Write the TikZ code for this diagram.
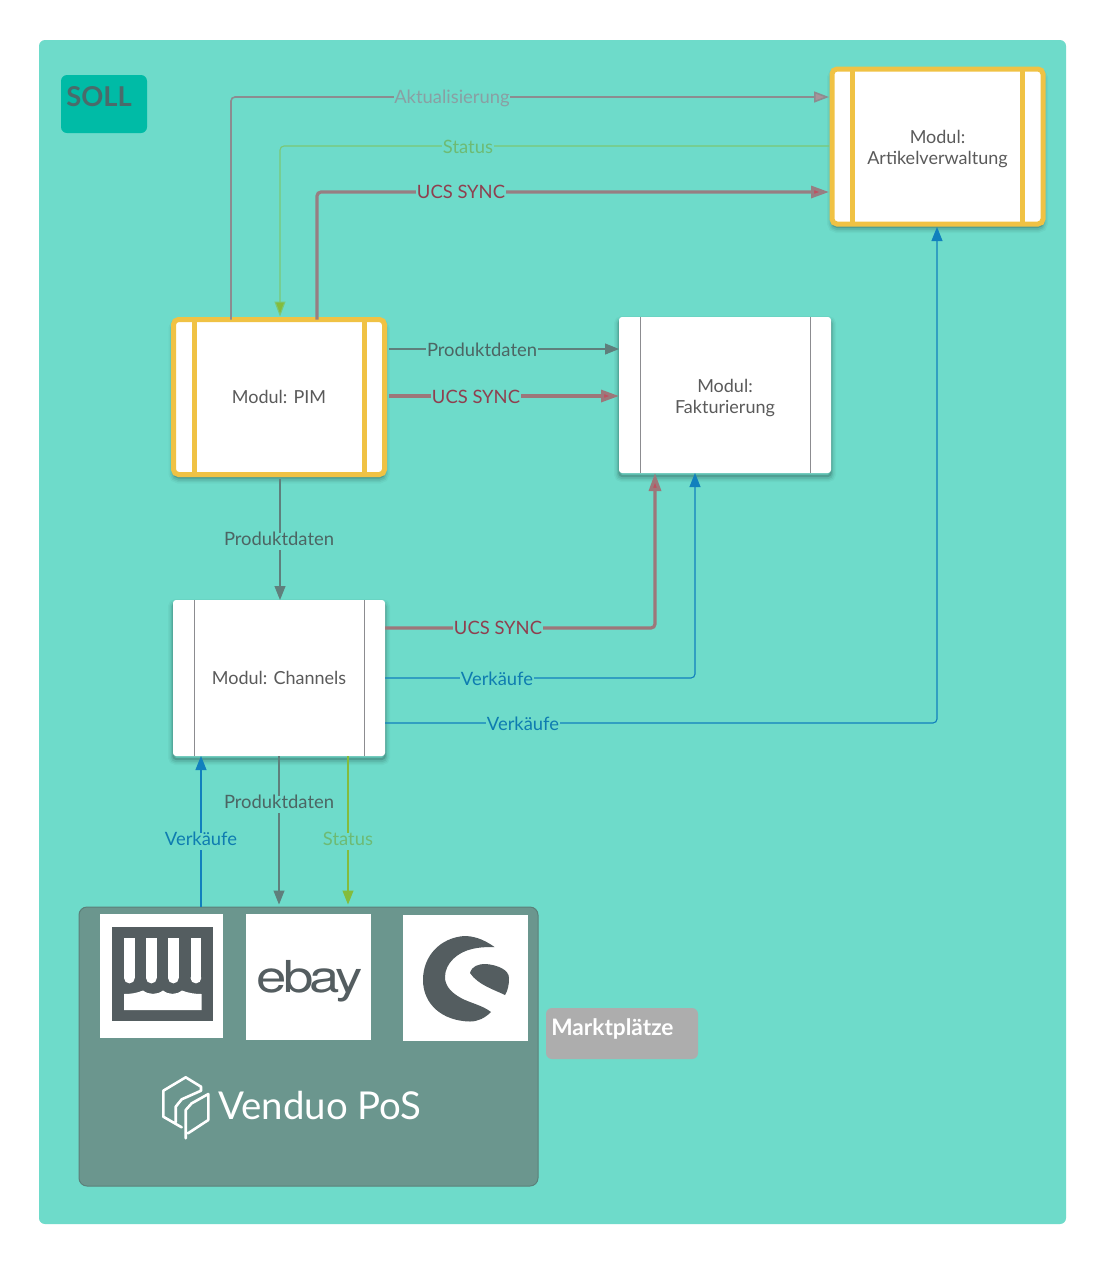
\documentclass[tikz,border=0pt]{standalone}
\usepackage{fontspec}
\setmainfont{Lato}
\newfontfamily\ebayfont{TeX Gyre Heros}
\usetikzlibrary{arrows.meta,calc}
\def\pxu{*.75pt}
\definecolor{bgteal}{HTML}{6EDBCA}
\definecolor{solfill}{HTML}{00BBA6}
\definecolor{soltxt}{HTML}{4A6B6B}
\definecolor{boxtxt}{HTML}{5A5A5A}
\definecolor{ybar}{HTML}{F0C244}
\definecolor{lgray}{HTML}{8C8C90}
\definecolor{dgray}{HTML}{5F7F7C}
\definecolor{grntxt}{HTML}{6DBB74}
\definecolor{grn}{HTML}{84BC3C}
\definecolor{redt}{HTML}{8F3F4F}
\definecolor{redh}{HTML}{BF5060}
\definecolor{blu}{HTML}{1180BD}
\definecolor{blutxt}{HTML}{0E7CB0}
\definecolor{mauve}{HTML}{A9939A}
\definecolor{akttxt}{HTML}{8A9FA3}
\definecolor{ventxt}{HTML}{6B968E}
\definecolor{logo}{HTML}{545D60}
\definecolor{mgray}{HTML}{ADADAD}
\tikzset{
  softshadow/.style={
    preaction={draw=black,draw opacity=.03,fill=black,fill opacity=.05,line width=10\pxu,transform canvas={yshift=-4\pxu}},
    preaction={draw=black,draw opacity=.05,line width=7\pxu,transform canvas={yshift=-4\pxu}},
    preaction={draw=black,draw opacity=.07,line width=4\pxu,transform canvas={yshift=-4\pxu}},
    preaction={draw=black,draw opacity=.09,line width=2\pxu,transform canvas={yshift=-3\pxu}}},
  modbase/.style={rectangle,rounded corners=3\pxu,fill=white,softshadow,align=center,
    text=boxtxt,font=\fontsize{13.5pt}{16pt}\selectfont,inner sep=0pt,outer sep=0pt},
  modplain/.style={modbase,minimum width=212\pxu,minimum height=156\pxu},
  modgold/.style={modbase,draw=ybar,line width=5\pxu,minimum width=211\pxu,minimum height=155\pxu,rounded corners=5\pxu},
  thinbar/.style={draw=lgray,line width=.75pt},
  goldbar/.style={draw=ybar,line width=5\pxu},
  conn/.style={line width=1.1\pxu,rounded corners=4\pxu,-{Triangle[length=14\pxu,width=11\pxu]}},
  thick conn/.style={conn,line width=3.2\pxu},
  redtip/.style={-{Triangle[length=18\pxu,width=12\pxu,fill=redh]}},
  lab/.style={fill=bgteal,inner xsep=.5pt,inner ysep=0pt,text height=10pt,text depth=3pt,yshift=-2.3\pxu,font=\fontsize{13.8pt}{15pt}\selectfont},
  whitebox/.style={fill=white,draw=none},
  logoshape/.style={fill=logo,draw=none},
  venduo/.style={draw=white,line width=2.6\pxu,line join=round,line cap=round},
}
\begin{document}
\begin{tikzpicture}[x=.75pt,y=-.75pt]
\useasboundingbox (0,0) rectangle (1107,1265);
\fill[white] (0,0) rectangle (1107,1265);
\fill[bgteal,rounded corners=6\pxu] (39,40) rectangle (1066,1224);

% labels' boxes
\node[fill=solfill,rounded corners=6\pxu,minimum width=86\pxu,minimum height=58\pxu,inner sep=0pt] (soll) at (104,104) {};
\node[anchor=west,inner sep=0pt,text=soltxt,font=\fontsize{20.5pt}{24pt}\selectfont\bfseries] (solltxt) at (66,97) {SOLL};

\node[fill=ventxt,draw=ventxt!85!black,line width=.75pt,rounded corners=8\pxu,minimum width=459\pxu,minimum height=279\pxu,inner sep=0pt] (pos) at (308.5,1046.5) {};
\node[fill=mgray,rounded corners=6\pxu,minimum width=152\pxu,minimum height=51\pxu,inner sep=0pt] (mkt) at (622,1033.5) {};
\node[anchor=west,inner sep=0pt,text=white,font=\fontsize{17pt}{20pt}\selectfont\bfseries] (mkttxt) at (551,1029) {Marktplätze};

% modules
\node[modgold] (art) at (937.5,146.5) {\rule{0pt}{14pt}Modul:\\Artikelverwaltung};
\node[modgold] (pim) at (279,397) {Modul: PIM};
\node[modplain] (fak) at (725,395) {\rule{0pt}{14pt}Modul:\\Fakturierung};
\node[modplain] (cha) at (279,678) {Modul: Channels};

\draw[goldbar] ([xshift=20.5\pxu]art.north west) -- ([xshift=20.5\pxu]art.south west);
\draw[goldbar] ([xshift=-20.5\pxu]art.north east) -- ([xshift=-20.5\pxu]art.south east);
\draw[goldbar] ([xshift=20.5\pxu]pim.north west) -- ([xshift=20.5\pxu]pim.south west);
\draw[goldbar] ([xshift=-20.5\pxu]pim.north east) -- ([xshift=-20.5\pxu]pim.south east);
\draw[thinbar] ([xshift=21\pxu]fak.north west) -- ([xshift=21\pxu]fak.south west);
\draw[thinbar] ([xshift=-21\pxu]fak.north east) -- ([xshift=-21\pxu]fak.south east);
\draw[thinbar] ([xshift=21\pxu]cha.north west) -- ([xshift=21\pxu]cha.south west);
\draw[thinbar] ([xshift=-21\pxu]cha.north east) -- ([xshift=-21\pxu]cha.south east);

% connectors
\coordinate (c1) at (231,97);
\coordinate (c2) at (280,146);
\coordinate (c3) at (317,192);
\draw[conn,line width=1.6\pxu,draw=lgray,-{Triangle[length=15\pxu,width=11\pxu,fill=mauve]}] (c1 |- pim.north) -- (c1) -- ([xshift=-3\pxu]art.west |- c1);
\draw[conn,draw=grn!60!bgteal,-{Triangle[length=15\pxu,width=11\pxu,fill=grn]}] ([xshift=-3\pxu]art.west |- c2) -- (c2) -- ([yshift=3\pxu]c2 |- pim.north);
\draw[thick conn,redtip,draw=lgray!90!red] (c3 |- pim.north) -- (c3) -- ([xshift=-3\pxu]art.west |- c3);

\coordinate (e1) at (389,349);
\coordinate (e2) at (389,396);
\draw[conn,draw=dgray] (e1) -- (e1 -| fak.west);
\draw[thick conn,redtip,draw=lgray!85!red] (e2) -- (e2 -| fak.west);
\coordinate (e3) at (280,479);
\draw[conn,draw=dgray] (e3) -- (e3 |- cha.north);

\coordinate (d1) at (655,628);
\coordinate (d2) at (695,678);
\coordinate (d3) at (937,723);
\draw[thick conn,redtip,draw=lgray!85!red] (cha.east |- d1) -- (d1) -- (d1 |- fak.south);
\draw[conn,draw=blu] (cha.east |- d2) -- (d2) -- (d2 |- fak.south);
\draw[conn,draw=blu] (cha.east |- d3) -- (d3) -- ([yshift=-3\pxu]d3 |- art.south);

\draw[conn,draw=dgray] (cha.south) -- ([yshift=2\pxu]pos.north -| cha.south);
\draw[conn,draw=grn] ([xshift=69\pxu]cha.south) -- ([xshift=69\pxu,yshift=2\pxu]cha.south |- pos.north);
\draw[conn,draw=blu] ([xshift=-78\pxu]cha.south |- pos.north) -- ([xshift=-78\pxu]cha.south);

% connector labels
\node[lab,text=akttxt] (l1) at (452,97) {Aktualisierung};
\node[lab,text=grntxt] (l2) at (468,147) {Status};
\node[lab,text=redt] (l3) at (461,192) {UCS SYNC};
\node[lab,text=dgray!80!black] (l4) at (482,350) {Produktdaten};
\node[lab,text=redt] (l5) at (476,397) {UCS SYNC};
\node[lab,text=dgray!80!black] (l6) at (279,539) {Produktdaten};
\node[lab,text=redt] (l7) at (498,628) {UCS SYNC};
\node[lab,text=blutxt] (l8) at (497,679) {Verkäufe};
\node[lab,text=blutxt] (l9) at (523,724) {Verkäufe};
\node[lab,text=dgray!80!black] (l10) at (279,802) {Produktdaten};
\node[lab,text=grntxt] (l11) at (348,839) {Status};
\node[lab,text=blutxt] (l12) at (201,839) {Verkäufe};

% logo tiles
\fill[whitebox] (100,914) rectangle (223,1038);
\fill[whitebox] (246,914) rectangle (371,1040);
\fill[whitebox] (403,915) rectangle (528,1041);

% market-hall icon
\fill[logoshape] (112,927) rectangle (213,1021);
\foreach \sx in {124,146,168,190.5}{
  \fill[white] (\sx,938) rectangle (\sx+10.8,978);
  \fill[white] (\sx+5.4,978) circle[radius=5.4\pxu];
}
\fill[white] (124,994) .. controls (131,994) and (137,993) .. (143,990.5)
  .. controls (149,995) and (157,995) .. (163,990.5)
  .. controls (169,995) and (176,995) .. (182,990.5)
  .. controls (188,993) and (195,994) .. (201.5,994) -- (201.5,1010) -- (124,1010) -- cycle;

% ebay wordmark
\node[inner sep=0pt,text=logo,xscale=1.24,transform shape,font=\ebayfont\fontsize{33pt}{34pt}\selectfont\addfontfeature{LetterSpace=-7}] (ebay) at (309.5,981) {ebay};

% shopware-like icon
\fill[logoshape] (494.5,947) .. controls (482,938) and (472,936) .. (464,936)
  .. controls (440,938) and (423,956) .. (423,980)
  .. controls (423,1004) and (442,1021) .. (470,1021.5)
  .. controls (478,1021.5) and (485,1018) .. (491,1012)
  .. controls (482,1005) and (470,1003) .. (461,998)
  .. controls (450,992) and (445,985) .. (445,977)
  .. controls (445,963) and (458,952) .. (472,949)
  .. controls (480,947) and (488,947) .. (494.5,947) -- cycle;
\fill[logoshape] (470,973) .. controls (472,966) and (478,964) .. (486,964)
  .. controls (498,965) and (509,970) .. (509,978)
  .. controls (509,985) and (508,990) .. (505,995)
  .. controls (495,990) and (478,985) .. (470,973) -- cycle;

% Venduo mark
\draw[venduo] (181.7,1127.3) -- (163.3,1116.7) -- (163.3,1090.7) -- (185.7,1077.3) -- (201,1086.7) -- (201,1090.7) -- (181.7,1099.3) -- (175.7,1106.7) -- (175.7,1122);
\draw[venduo] (188,1133.3) -- (208.3,1120) -- (208.3,1094) -- (191.7,1103.3) -- (185.7,1110) -- (185.7,1138.3);
\node[anchor=west,inner sep=0pt,text=white,font=\fontsize{28.8pt}{34pt}\selectfont] (ven) at (218,1105) {Venduo PoS};
\end{tikzpicture}
\end{document}
